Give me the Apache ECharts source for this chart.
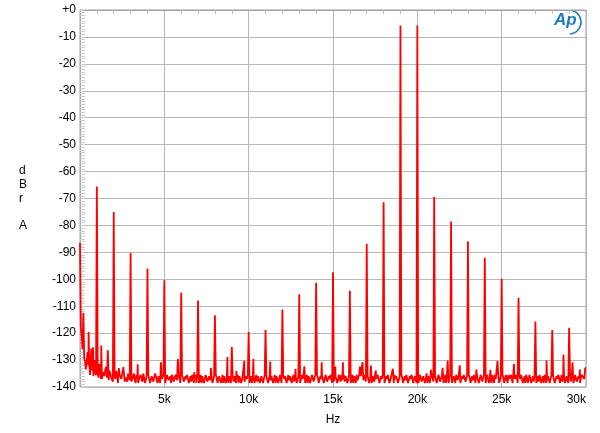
<!DOCTYPE html>
<html>
<head>
<meta charset="utf-8">
<script src="https://cdn.jsdelivr.net/npm/echarts@6/dist/echarts.min.js"></script>
<style>
html,body{margin:0;padding:0;background:#fff;}
#chart{width:600px;height:433px;}
</style>
</head>
<body>
<div id="chart"></div>
<script>
// FFT bin spacing of the noise-floor tables (Hz)
const binHz = 100;
// Noise floor, dBrA, bins 0, 100, ... 30000 Hz (one row per kHz)
const noiseFloor = [
  -86.5,-121.0,-133.0,-130.5,-134.0,-132.0,-135.5,-133.0,-136.0,-134.5,
  -133.0,-136.5,-134.0,-137.0,-135.0,-133.5,-136.5,-137.5,-135.0,-136.0,
  -134.5,-137.0,-135.5,-138.0,-136.0,-137.5,-134.5,-136.5,-138.0,-135.5,
  -136.0,-137.5,-135.0,-138.5,-136.5,-137.0,-135.5,-138.0,-136.5,-137.5,
  -137.0,-135.5,-138.0,-136.5,-137.5,-136.0,-138.5,-137.0,-135.5,-137.5,
  -136.5,-138.0,-136.0,-137.5,-138.5,-136.5,-137.0,-135.5,-138.0,-137.0,
  -137.5,-136.0,-138.5,-137.0,-135.5,-137.5,-138.0,-136.5,-137.0,-138.5,
  -136.0,-137.5,-138.5,-136.5,-137.0,-135.5,-138.0,-137.5,-136.0,-138.0,
  -137.0,-136.5,-138.0,-135.5,-137.5,-138.5,-136.0,-137.0,-138.5,-136.5,
  -137.5,-138.0,-136.0,-137.0,-138.5,-136.5,-137.5,-135.5,-138.0,-137.0,
  -136.5,-137.5,-138.5,-136.0,-137.0,-138.0,-135.5,-137.5,-136.5,-138.5,
  -137.0,-136.0,-138.0,-137.5,-135.5,-137.0,-138.5,-136.5,-137.5,-136.0,
  -138.0,-137.0,-136.0,-138.5,-137.5,-135.5,-137.0,-138.0,-136.5,-137.5,
  -136.5,-138.0,-137.0,-135.5,-137.5,-138.5,-136.0,-137.0,-135.5,-138.0,
  -137.5,-136.5,-138.0,-137.0,-135.0,-137.5,-136.5,-138.5,-137.0,-136.0,
  -137.0,-138.5,-136.0,-137.5,-136.5,-135.5,-137.0,-138.0,-136.5,-137.5,
  -136.0,-137.5,-138.5,-136.5,-135.5,-137.0,-138.0,-136.0,-137.5,-136.5,
  -137.5,-136.0,-137.0,-138.5,-136.5,-135.0,-137.5,-136.0,-138.0,-137.0,
  -136.5,-138.0,-137.0,-136.0,-137.5,-136.5,-138.5,-137.0,-136.0,-137.5,
  -137.0,-136.5,-138.0,-137.5,-136.0,-138.5,-137.0,-136.5,-138.0,-137.0,
  -136.0,-137.5,-136.5,-138.0,-135.5,-137.0,-138.5,-136.5,-137.5,-136.0,
  -137.5,-136.0,-138.0,-136.5,-137.0,-135.5,-137.5,-138.5,-136.0,-137.0,
  -136.5,-138.0,-137.0,-135.5,-137.5,-136.0,-138.0,-137.0,-136.5,-138.5,
  -137.0,-136.5,-138.0,-137.5,-136.0,-134.5,-137.0,-138.5,-136.5,-137.5,
  -136.0,-138.0,-137.0,-136.5,-138.5,-137.0,-135.5,-137.5,-136.0,-138.0,
  -137.5,-136.5,-138.0,-137.0,-135.5,-137.5,-136.0,-138.5,-137.0,-136.5,
  -138.0,-137.0,-136.0,-137.5,-138.5,-136.5,-137.0,-135.5,-137.5,-138.0,
  -136.5,-137.5,-138.0,-136.0,-137.0,-138.5,-136.5,-137.5,-136.0,-137.0,
  -137.5,-136.0,-138.5,-137.0,-136.5,-137.5,-138.0,-136.0,-137.5,-136.5,
  -137.0,-138.0,-136.5,-137.5,-136.0,-138.5,-137.0,-136.5,-135.5,-137.0,
  -136.0
];
// Noise floor, dBrA, interleaved bins 50, 150, ... 29950 Hz (one row per kHz)
const noiseFloorMid = [
  -118.0,-126.0,-129.5,-133.5,-127.0,-131.5,-128.5,-134.0,-130.0,-135.5,
  -135.0,-131.5,-137.0,-134.5,-136.0,-132.5,-137.5,-134.0,-136.5,-138.0,
  -136.0,-134.0,-138.5,-135.5,-137.0,-133.5,-138.0,-136.0,-135.0,-137.5,
  -138.0,-136.0,-137.5,-135.5,-138.5,-136.5,-137.0,-135.0,-138.5,-136.0,
  -135.5,-138.5,-136.0,-138.0,-135.0,-137.5,-136.0,-138.5,-137.0,-135.5,
  -138.5,-135.5,-137.5,-136.0,-135.5,-138.0,-135.5,-137.5,-136.0,-138.5,
  -135.5,-138.0,-136.0,-135.5,-138.5,-136.0,-135.5,-138.5,-135.5,-136.0,
  -138.5,-135.5,-136.0,-138.5,-135.5,-138.0,-136.0,-135.5,-138.5,-136.0,
  -135.5,-138.5,-136.0,-138.5,-135.5,-136.0,-138.5,-135.5,-136.0,-138.5,
  -135.5,-136.0,-138.5,-135.5,-136.0,-138.5,-135.5,-138.0,-136.0,-135.5,
  -138.5,-136.0,-135.5,-138.5,-135.5,-136.0,-138.5,-136.0,-138.5,-135.5,
  -136.0,-138.5,-135.5,-136.0,-138.5,-135.5,-136.0,-138.5,-135.5,-138.5,
  -135.5,-136.0,-138.5,-135.5,-136.0,-138.5,-135.5,-136.0,-138.5,-136.0,
  -138.5,-135.5,-136.0,-138.5,-135.5,-136.0,-138.5,-135.5,-138.0,-135.5,
  -135.5,-138.5,-136.0,-135.5,-138.5,-135.5,-138.0,-136.0,-135.5,-138.5,
  -138.0,-136.0,-138.5,-135.5,-138.0,-137.5,-135.5,-136.0,-138.5,-135.5,
  -138.5,-135.5,-136.0,-138.5,-137.5,-135.5,-136.0,-138.5,-135.5,-138.0,
  -136.0,-138.5,-135.5,-136.0,-138.0,-137.0,-135.5,-138.5,-136.0,-135.5,
  -138.5,-136.0,-135.5,-138.5,-136.0,-138.0,-135.5,-136.0,-138.5,-136.0,
  -135.5,-138.5,-136.0,-135.5,-138.5,-136.0,-135.5,-138.5,-136.0,-138.5,
  -138.5,-135.5,-138.0,-136.0,-138.5,-135.5,-136.0,-138.5,-135.5,-138.0,
  -136.0,-138.5,-135.5,-138.0,-136.0,-138.5,-135.5,-136.0,-138.5,-135.5,
  -138.5,-136.0,-138.5,-136.0,-135.5,-138.5,-136.0,-135.5,-138.0,-136.0,
  -135.5,-138.5,-136.0,-135.5,-138.5,-136.5,-138.5,-135.5,-138.0,-135.5,
  -138.5,-135.5,-138.5,-136.0,-135.5,-138.5,-137.0,-135.5,-138.5,-136.0,
  -135.5,-138.5,-135.5,-138.5,-137.0,-135.5,-138.5,-136.0,-135.5,-138.5,
  -136.0,-135.5,-138.5,-136.0,-135.5,-138.5,-135.5,-138.5,-136.0,-135.5,
  -138.5,-136.0,-135.5,-138.5,-136.0,-135.5,-138.5,-136.0,-138.5,-135.5,
  -136.0,-138.5,-136.0,-135.5,-138.5,-135.5,-136.0,-138.5,-136.0,-138.5,
  -135.5,-136.0,-138.5,-135.5,-138.0,-136.0,-138.5,-135.5,-136.0,-138.5
];
// Tones and intermodulation products [Hz, dBrA]
const tonePeaks = [
  [1000,-65.5],[2000,-75.0],[3000,-90.2],[4000,-96.0],[5000,-100.4],
  [6000,-105.0],[7000,-107.9],[8000,-113.4],[9000,-125.2],[10000,-119.6],
  [11000,-118.8],[12000,-111.2],[13000,-105.6],[14000,-101.3],[15000,-97.4],
  [16000,-104.3],[17000,-86.8],[18000,-71.4],[19000,-5.8],[20000,-5.8],
  [21000,-69.4],[22000,-78.5],[23000,-86.0],[24000,-92.0],[25000,-99.8],
  [26000,-106.9],[27000,-115.7],[28000,-118.8],[29000,-118.0],[30000,-133.0]
];
// Small spurious components [Hz, dBrA]
const spurs = [
  [200,-112.5],[510,-119.6],[670,-125.7],[770,-125.2],[1260,-124.6],
  [1650,-126.4],[2300,-133.0],[2570,-132.6],[3420,-131.6],[4800,-130.8],
  [5800,-129.6],[6770,-134.5],[7760,-132.9],[8740,-128.9],[9270,-134.1],
  [9740,-130.3],[10280,-129.5],[11280,-130.5],[12780,-133.2],[13300,-132.3],
  [14330,-130.8],[15140,-132.4],[15590,-130.8],[16600,-132.4],[16750,-130.8],
  [17250,-132.0],[17540,-133.9],[18550,-133.2],[20550,-134.9],[20800,-133.6],
  [21500,-132.9],[21800,-130.2],[22520,-132.0],[23500,-133.5],[24330,-133.6],
  [24750,-130.4],[25730,-131.4],[27660,-130.2],[28660,-127.9],[29200,-130.8],
  [29640,-133.5],[29950,-133.0]
];
const xTicks = [0,5000,10000,15000,20000,25000,30000];
const yTicks = [0,-10,-20,-30,-40,-50,-60,-70,-80,-90,-100,-110,-120,-130,-140];

// merge into one trace
const pts = new Map();
noiseFloor.forEach((v,i)=>pts.set(i*binHz, v));
noiseFloorMid.forEach((v,i)=>pts.set(i*binHz + binHz/2, v));
spurs.concat(tonePeaks).forEach(([f,v])=>pts.set(f, v));
const trace = Array.from(pts.entries()).sort((a,b)=>a[0]-b[0]);

const chart = echarts.init(document.getElementById('chart'), null, {renderer:'canvas'});
const font = 'Liberation Sans, Arial, sans-serif';
chart.setOption({
  animation:false,
  backgroundColor:'#fff',
  grid:{left:80,right:14,top:10,bottom:46,show:true,borderColor:'#a0a0a0',borderWidth:1},
  xAxis:{
    type:'value',min:xTicks[0],max:xTicks[xTicks.length-1],interval:5000,
    name:'Hz',nameLocation:'middle',nameGap:27,
    nameTextStyle:{color:'#000',fontSize:12,fontFamily:font},
    axisLine:{show:true,lineStyle:{color:'#a0a0a0'}},
    axisTick:{show:false},
    minorTick:{show:true,splitNumber:5,length:4,lineStyle:{color:'#bbb'}},
    axisLabel:{color:'#000',fontSize:12,fontFamily:font,margin:7,
      alignMaxLabel:'right',
      formatter:v=>v===0?'':(v/1000)+'k'},
    splitLine:{show:true,lineStyle:{color:'#b8b8b8',width:1}}
  },
  yAxis:{
    type:'value',min:yTicks[yTicks.length-1],max:yTicks[0],interval:10,
    axisLine:{show:true,lineStyle:{color:'#a0a0a0'}},
    axisTick:{show:true,inside:true,length:5,lineStyle:{color:'#ccc'}},
    minorTick:{show:true,splitNumber:10,length:5,lineStyle:{color:'#ccc'}},
    axisLabel:{color:'#000',fontSize:12,fontFamily:font,margin:4,
      formatter:v=>v===0?'+0':String(v)},
    splitLine:{show:true,lineStyle:{color:'#b8b8b8',width:1}}
  },
  graphic:[
    {type:'text',left:19,top:164,style:{text:'d\nB\nr\n\nA',fontSize:12,fontFamily:font,fill:'#000',lineHeight:13.7,align:'center'}},
    {type:'text',left:554,top:12,style:{text:'Ap',fontSize:17,fontStyle:'italic',fontWeight:'bold',fontFamily:font,fill:'#1f7bc0'}},
    {type:'arc',shape:{cx:569,cy:22,r:12,startAngle:-1.3,endAngle:1.5},style:{stroke:'#1f7bc0',lineWidth:1.6,fill:null}}
  ],
  series:[{
    type:'line',data:trace,showSymbol:false,symbol:'none',
    lineStyle:{color:'#ff0000',width:1.8},
    clip:true
  }]
});
</script>
</body>
</html>
